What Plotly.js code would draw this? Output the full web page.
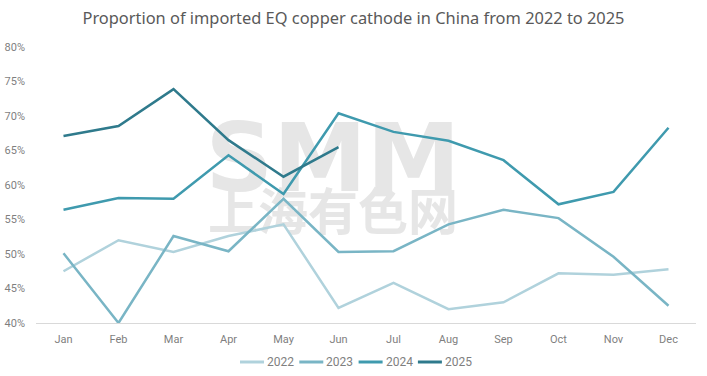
<!DOCTYPE html>
<html><head><meta charset="utf-8">
<script src="https://cdn.plot.ly/plotly-3.0.1.min.js"></script>
<style>html,body{margin:0;padding:0;background:#fff}#chart{width:707px;height:376px}</style>
</head><body><div id="chart"></div>
<script>
const months = ["Jan","Feb","Mar","Apr","May","Jun","Jul","Aug","Sep","Oct","Nov","Dec"];
const v2022 = [47.5,52.0,50.3,52.6,54.3,42.2,45.8,42.0,43.0,47.2,47.0,47.8];
const v2023 = [50.1,40.0,52.6,50.4,58.0,50.3,50.4,54.3,56.4,55.2,49.6,42.5];
const v2024 = [56.4,58.1,58.0,64.3,58.7,70.4,67.7,66.4,63.6,57.2,59.0,68.3];
const v2025 = [67.1,68.55,73.9,66.5,61.2,65.5];
const seriesNames = ["2022","2023","2024","2025"];
const colors = ["#b0d2dc","#79b5c5","#3f9aae","#2f7a8c"];
const vals = [v2022,v2023,v2024,v2025];
const tickVals = [40,45,50,55,60,65,70,75,80];
const tickText = tickVals.map(v=>v+"%");

const traces = vals.map((v,i)=>({
  x: months.slice(0,v.length), y: v, name: seriesNames[i], type:"scatter", mode:"lines",
  line:{color:colors[i], width:2.5}, showlegend:false
}));

// Custom compact legend (pixel layout converted to paper coords)
const W = 707, H = 376, mL = 36, mR = 11, mT = 47, mB = 53;
const pw = W - mL - mR, ph = H - mT - mB;
const px = x => (x - mL) / pw;
const py = y => (H - mB - y) / ph;
const legShapes = [], legAnn = [];
seriesNames.forEach((n,i)=>{
  const x0 = 240 + i*59.3;
  legShapes.push({type:"line", xref:"paper", yref:"paper", x0:px(x0), x1:px(x0+24), y0:py(362), y1:py(362),
    line:{color:colors[i], width:3}});
  legAnn.push({xref:"paper", yref:"paper", x:px(x0+25), y:py(362), xanchor:"left", yanchor:"middle",
    text:n, showarrow:false, font:{size:12, color:"#7f7f7f", family:"Roboto, sans-serif"}});
});

const layout = {
  width:W, height:H,
  margin:{l:mL,r:mR,t:mT,b:mB},
  paper_bgcolor:"#fff", plot_bgcolor:"#fff",
  font:{family:"Roboto, sans-serif", color:"#7f7f7f", size:11},
  title:{text:"Proportion of imported EQ copper cathode in China from 2022 to 2025",
    font:{family:"Noto Sans, sans-serif", size:16.4, color:"#595959"}, x:0.5, xanchor:"center", y:0.952, yanchor:"middle"},
  xaxis:{type:"category", range:[-0.5,11.5], showgrid:false, zeroline:false,
    showline:true, linecolor:"#d9d9d9", linewidth:1, ticks:"", tickfont:{size:11,color:"#7f7f7f"}, ticklabelstandoff:6},
  yaxis:{range:[40,80], tickvals:tickVals, ticktext:tickText, showgrid:false, zeroline:false,
    showline:false, ticks:"", tickfont:{size:11,color:"#7f7f7f"}, ticklabelstandoff:10},
  showlegend:false,
  annotations: legAnn,
  shapes:[
    {type:"rect", xref:"paper", yref:"paper", x0:0.26, x1:0.64, y0:0.52, y1:0.72, layer:"below",
     line:{width:0}, fillcolor:"rgba(0,0,0,0)",
     label:{text:"SMM", font:{family:"DejaVu Sans, sans-serif", size:94, weight:"bold", color:"#e6e6e6"}, textposition:"middle center"}},
    {type:"rect", xref:"paper", yref:"paper", x0:0.26, x1:0.64, y0:0.32, y1:0.456, layer:"below",
     line:{width:0}, fillcolor:"rgba(0,0,0,0)",
     label:{text:"上海有色网", font:{family:"Noto Sans CJK SC, sans-serif", size:50, weight:"bold", color:"#e6e6e6"}, textposition:"middle center"}}
  ].concat(legShapes)
};
Plotly.newPlot("chart", traces, layout, {displayModeBar:false, staticPlot:true});
</script></body></html>
